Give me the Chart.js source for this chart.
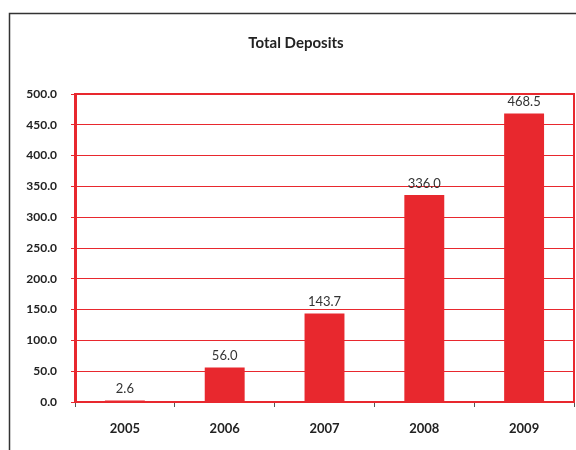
<!DOCTYPE html>
<html><head><meta charset="utf-8">
<script src="https://cdn.jsdelivr.net/npm/chart.js@4/dist/chart.umd.min.js"></script>
<style>html,body{margin:0;padding:0;background:#fff}#wrap{width:576px;height:450px;position:relative}</style>
</head><body><div id="wrap"><canvas id="c" width="576" height="450"></canvas></div>
<script>
const categories = ['2005', '2006', '2007', '2008', '2009'];
const deposits = [2.6, 56.0, 143.7, 336.0, 468.5];
const titleText = 'Total Deposits';

const RED = '#e8282e';
const FONT = 'Lato, "Open Sans", sans-serif';

const framePlugin = {
  id: 'frame',
  beforeDraw(chart) {
    const ctx = chart.ctx;
    ctx.save();
    ctx.strokeStyle = '#333';
    ctx.lineWidth = 1.5;
    ctx.beginPath();
    ctx.moveTo(9.5, 450);
    ctx.lineTo(9.5, 13.5);
    ctx.lineTo(576, 13.5);
    ctx.stroke();
    ctx.font = 'bold 15px ' + FONT;
    ctx.fillStyle = '#222';
    ctx.textAlign = 'center';
    ctx.textBaseline = 'middle';
    ctx.fillText(titleText, 296, 43);
    ctx.restore();
  },
  afterDatasetsDraw(chart) {
    const ctx = chart.ctx;
    const a = chart.chartArea;
    ctx.save();
    ctx.strokeStyle = RED;
    ctx.lineWidth = 2;
    ctx.strokeRect(a.left + 1, a.top, a.right - a.left - 1, a.bottom - a.top);
    ctx.font = '13px ' + FONT;
    ctx.fillStyle = '#333';
    ctx.textAlign = 'center';
    ctx.textBaseline = 'bottom';
    const meta = chart.getDatasetMeta(0);
    meta.data.forEach((bar, i) => {
      ctx.fillText(deposits[i].toFixed(1), bar.x, bar.y - 5);
    });
    ctx.restore();
  }
};

new Chart(document.getElementById('c'), {
  type: 'bar',
  data: {
    labels: categories,
    datasets: [{
      data: deposits,
      backgroundColor: RED,
      borderWidth: 0,
      categoryPercentage: 1,
      barPercentage: 0.4
    }]
  },
  options: {
    responsive: false,
    animation: false,
    layout: { padding: { left: 0, right: 2, top: 94, bottom: 0 } },
    plugins: {
      legend: { display: false },
      tooltip: { enabled: false },
      title: { display: false }
    },
    scales: {
      x: {
        grid: { drawOnChartArea: false, drawTicks: true, tickLength: 5, color: '#555', offset: true },
        border: { display: true, color: '#555', width: 1 },
        ticks: { color: '#222', font: { family: FONT, size: 13, weight: 'bold' }, padding: 14 },
        afterFit(s) { s.height = 48; }
      },
      y: {
        min: 0, max: 500,
        grid: { color: RED, lineWidth: 1, tickLength: 4, drawTicks: true },
        border: { display: true, color: RED, width: 2 },
        ticks: {
          stepSize: 50,
          color: '#222',
          font: { family: FONT, size: 12, weight: 'bold' },
          padding: 14,
          callback: v => Number(v).toFixed(1)
        },
        afterFit(s) { s.width = 75; }
      }
    }
  },
  plugins: [framePlugin]
});
</script></body></html>
